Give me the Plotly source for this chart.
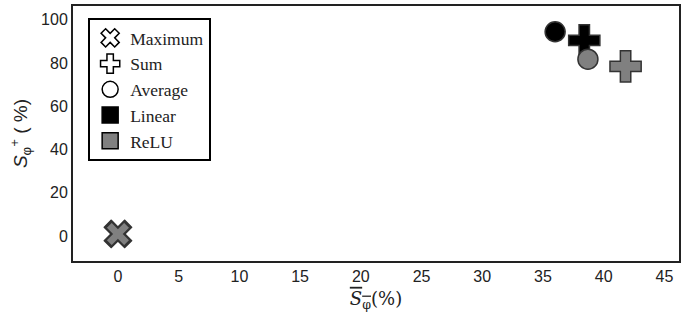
import plotly.graph_objects as go

# Data (x: mean S_phi %, y: S_phi^+ %)
linear_avg = (36.0, 94.5)
linear_sum = (38.4, 90.5)
linear_max = (0.0, 1.0)
relu_avg = (38.7, 81.8)
relu_sum = (41.8, 78.5)
relu_max = (0.0, 1.0)

legend_names = ["Maximum", "Sum", "Average", "Linear", "ReLU"]
x_ticks = [0, 5, 10, 15, 20, 25, 30, 35, 40, 45]
y_ticks = [0, 20, 40, 60, 80, 100]

BLACK = "black"
GRAY = "#808080"

fig = go.Figure()

def pt(p, symbol, fill, size, line_w=1.5):
    fig.add_trace(go.Scatter(
        x=[p[0]], y=[p[1]], mode="markers", showlegend=False,
        marker=dict(symbol=symbol, size=size, color=fill,
                    line=dict(color="#333333", width=line_w)),
        hoverinfo="skip"))

pt(linear_max, "x", BLACK, 24)
pt(relu_max, "x", GRAY, 22, 2)
pt(linear_avg, "circle", BLACK, 20)
pt(linear_sum, "cross", BLACK, 26)
pt(relu_avg, "circle", GRAY, 20)
pt(relu_sum, "cross", GRAY, 26)

# legend-only traces
leg_syms = [("x-open", "black"), ("cross-open", "black"), ("circle-open", "black"),
            ("square", BLACK), ("square", GRAY)]
for name, (sym, col) in zip(legend_names, leg_syms):
    fig.add_trace(go.Scatter(
        x=[None], y=[None], mode="markers", name=name,
        marker=dict(symbol=sym, size=16, color=col,
                    line=dict(color="black", width=1.5))))

fig.update_layout(
    width=685, height=329,
    margin=dict(l=73, r=5, t=4, b=68),
    paper_bgcolor="white", plot_bgcolor="white",
    font=dict(family="Liberation Sans", size=16, color="#222"),
    legend=dict(x=0.025, y=0.953, xanchor="left", yanchor="top",
                bordercolor="black", borderwidth=2, bgcolor="white",
                font=dict(family="Liberation Serif", size=17.5, color="#222"),
                itemsizing="trace", tracegroupgap=0),
    xaxis=dict(range=[-3.7, 46.2], tickvals=x_ticks, showgrid=False, zeroline=False,
               showline=True, linecolor="#222", linewidth=2, mirror=True,
               title=dict(text='<span style="text-decoration:overline"><i>S</i><sub>φ</sub></span>(%)',
                          font=dict(family="DejaVu Serif", size=18), standoff=8)),
    yaxis=dict(range=[-11.5, 106.4], tickvals=y_ticks, showgrid=False, zeroline=False,
               showline=True, linecolor="#222", linewidth=2, mirror=True,
               title=dict(text="<i>S</i><sub>φ</sub><sup>+</sup> ( %)",
                          font=dict(family="Liberation Sans", size=19), standoff=8)),
)

fig.write_html("out.html", config={"displayModeBar": False},
               post_script="document.body.style.margin='0px';document.body.style.overflow='hidden';")
